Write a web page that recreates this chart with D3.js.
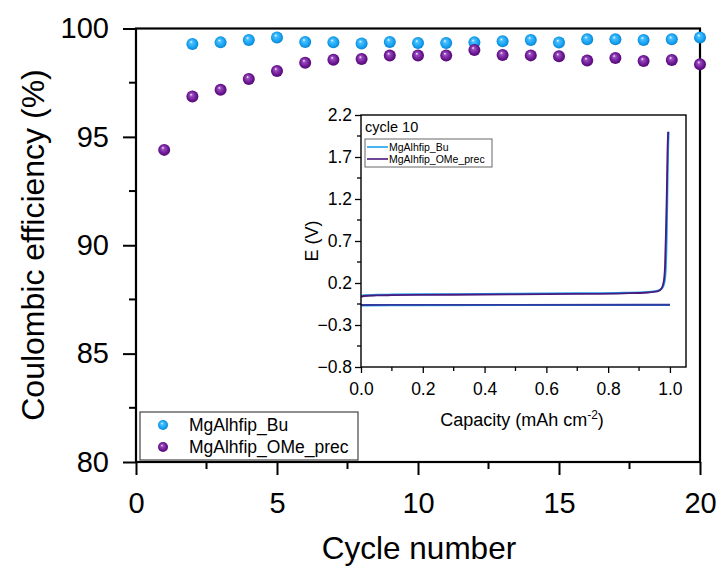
<!DOCTYPE html>
<html>
<head>
<meta charset="utf-8">
<script src="https://cdn.jsdelivr.net/npm/d3@7"></script>
<style>
  html, body { margin: 0; padding: 0; background: #fff; }
  svg { display: block; font-family: Arial, "Liberation Sans", sans-serif; }
</style>
</head>
<body>
<svg id="chart" width="723" height="567"></svg>
<script>
// Coulombic efficiency per cycle
const cycles = [1, 2, 3, 4, 5, 6, 7, 8, 9, 10, 11, 12, 13, 14, 15, 16, 17, 18, 19, 20];
const ceBu = [null, 99.29, 99.36, 99.47, 99.59, 99.38, 99.36, 99.31, 99.38, 99.33,
              99.33, 99.36, 99.41, 99.47, 99.35, 99.50, 99.50, 99.47, 99.50, 99.59];
const ceOMe = [94.40, 96.86, 97.17, 97.67, 98.04, 98.42, 98.56, 98.59, 98.75, 98.75,
               98.75, 99.01, 98.78, 98.76, 98.72, 98.52, 98.64, 98.50, 98.55, 98.35];
const seriesNames = ["MgAlhfip_Bu", "MgAlhfip_OMe_prec"];
const mainXTicks = [0, 5, 10, 15, 20];
const mainYTicks = [80, 85, 90, 95, 100];

// Cycle 10 voltage profiles (capacity in mAh cm-2, E in V)
const buStripCap = [0, 0.01, 0.05, 0.1, 0.3, 0.5, 0.7, 0.85, 0.93, 0.96, 0.975, 0.983, 0.987, 0.99, 0.992, 0.994, 0.996];
const buStripE   = [0.045, 0.055, 0.06, 0.063, 0.068, 0.073, 0.078, 0.085, 0.095, 0.11, 0.14, 0.22, 0.4, 0.8, 1.3, 1.75, 2.0];
const buPlateCap = [0, 0.1, 0.5, 0.9, 1.0];
const buPlateE   = [-0.068, -0.066, -0.064, -0.062, -0.062];
const omeStripCap = [0, 0.01, 0.05, 0.1, 0.3, 0.5, 0.7, 0.85, 0.93, 0.96, 0.972, 0.98, 0.984, 0.987, 0.99, 0.992, 0.994];
const omeStripE   = [0.035, 0.045, 0.052, 0.055, 0.06, 0.065, 0.07, 0.077, 0.087, 0.1, 0.13, 0.22, 0.4, 0.8, 1.3, 1.75, 2.0];
const omePlateCap = [0, 0.1, 0.5, 0.9, 1.0];
const omePlateE   = [-0.062, -0.061, -0.06, -0.059, -0.059];
const insetXTicks = [0, 0.2, 0.4, 0.6, 0.8, 1.0];
const insetYTicks = [-0.8, -0.3, 0.2, 0.7, 1.2, 1.7, 2.2];

const svg = d3.select("#chart");
const defs = svg.append("defs");

// shaded sphere markers
function sphere(id, hi, mid, edge) {
  const g = defs.append("radialGradient").attr("id", id)
    .attr("cx", "50%").attr("cy", "50%").attr("r", "55%")
    .attr("fx", "38%").attr("fy", "32%");
  g.append("stop").attr("offset", "0%").attr("stop-color", "#ffffff");
  g.append("stop").attr("offset", "22%").attr("stop-color", hi);
  g.append("stop").attr("offset", "70%").attr("stop-color", mid);
  g.append("stop").attr("offset", "100%").attr("stop-color", edge);
}
sphere("ballBlue", "#4cc0ff", "#13a0ee", "#0a78c8");
sphere("ballPurple", "#9a4cc0", "#6a1590", "#4a0a68");

// ---------- main panel ----------
const x = d3.scaleLinear().domain([0, 20]).range([136, 700]);
const y = d3.scaleLinear().domain([80, 100]).range([462, 28.5]);

const main = svg.append("g");

const xAxis = main.append("g").attr("transform", `translate(0,${y(80)})`)
  .call(d3.axisBottom(x).tickValues(mainXTicks).tickSize(13).tickPadding(17).tickFormat(d3.format("d")));
const yAxis = main.append("g").attr("transform", `translate(${x(0)},0)`)
  .call(d3.axisLeft(y).tickValues(mainYTicks).tickSize(13).tickPadding(14).tickFormat(d3.format("d")));
[xAxis, yAxis].forEach(a => {
  a.select(".domain").remove();
  a.selectAll(".tick line").attr("stroke", "#000").attr("stroke-width", 2);
  a.selectAll(".tick text").attr("fill", "#000").style("font-size", "29px");
});
// minor ticks
main.append("g").selectAll("line").data([2.5, 7.5, 12.5, 17.5]).join("line")
  .attr("x1", d => x(d)).attr("x2", d => x(d))
  .attr("y1", y(80)).attr("y2", y(80) + 7)
  .attr("stroke", "#000").attr("stroke-width", 2);
main.append("g").selectAll("line").data([82.5, 87.5, 92.5, 97.5]).join("line")
  .attr("x1", x(0) - 7).attr("x2", x(0))
  .attr("y1", d => y(d)).attr("y2", d => y(d))
  .attr("stroke", "#000").attr("stroke-width", 2);

main.append("rect")
  .attr("x", x(0)).attr("y", y(100))
  .attr("width", x(20) - x(0)).attr("height", y(80) - y(100))
  .attr("fill", "none").attr("stroke", "#000").attr("stroke-width", 2.2);

main.append("text")
  .attr("transform", `translate(33,245) rotate(-90)`)
  .attr("text-anchor", "middle").attr("dominant-baseline", "central")
  .style("font-size", "32px").text("Coulombic efficiency (%)");
main.append("text")
  .attr("x", 419).attr("y", 559)
  .attr("text-anchor", "middle")
  .style("font-size", "31.5px").text("Cycle number");

// ---------- inset panel ----------
const ix = d3.scaleLinear().domain([0, 1.052]).range([361, 686]);
const iy = d3.scaleLinear().domain([-0.8, 2.2]).range([367, 115]);
const inset = svg.append("g");

inset.append("rect")
  .attr("x", ix(0)).attr("y", iy(2.2))
  .attr("width", ix(1.052) - ix(0)).attr("height", iy(-0.8) - iy(2.2))
  .attr("fill", "#fff");

const ixAxis = inset.append("g").attr("transform", `translate(0,${iy(-0.8)})`)
  .call(d3.axisBottom(ix).tickValues(insetXTicks).tickSize(6).tickPadding(10).tickFormat(d3.format(".1f")));
const iyAxis = inset.append("g").attr("transform", `translate(${ix(0)},0)`)
  .call(d3.axisLeft(iy).tickValues(insetYTicks).tickSize(6).tickPadding(3).tickFormat(d3.format(".1f")));
[ixAxis, iyAxis].forEach(a => {
  a.select(".domain").remove();
  a.selectAll(".tick line").attr("stroke", "#000").attr("stroke-width", 1.3);
  a.selectAll(".tick text").attr("fill", "#000").style("font-size", "17.5px");
});
inset.append("g").selectAll("line").data([0.1, 0.3, 0.5, 0.7, 0.9]).join("line")
  .attr("x1", d => ix(d)).attr("x2", d => ix(d))
  .attr("y1", iy(-0.8)).attr("y2", iy(-0.8) + 4)
  .attr("stroke", "#000").attr("stroke-width", 1.3);
inset.append("g").selectAll("line").data([-0.55, -0.05, 0.45, 0.95, 1.45, 1.95]).join("line")
  .attr("x1", ix(0) - 4).attr("x2", ix(0))
  .attr("y1", d => iy(d)).attr("y2", d => iy(d))
  .attr("stroke", "#000").attr("stroke-width", 1.3);

const clip = defs.append("clipPath").attr("id", "insetClip");
clip.append("rect").attr("x", ix(0)).attr("y", iy(2.2))
  .attr("width", ix(1.052) - ix(0)).attr("height", iy(-0.8) - iy(2.2));

const line = d3.line().curve(d3.curveMonotoneX);
function profile(caps, es, color) {
  inset.append("path")
    .attr("clip-path", "url(#insetClip)")
    .attr("d", line(caps.map((c, i) => [ix(c), iy(es[i])])))
    .attr("fill", "none").attr("stroke", color).attr("stroke-width", 1.8);
}
const blueLine = "#1aa0ee", purpleLine = "#4a1a7e";
profile(buStripCap, buStripE, blueLine);
profile(buPlateCap, buPlateE, blueLine);
profile(omeStripCap, omeStripE, purpleLine);
profile(omePlateCap, omePlateE, "#303a9e");

inset.append("rect")
  .attr("x", ix(0)).attr("y", iy(2.2))
  .attr("width", ix(1.052) - ix(0)).attr("height", iy(-0.8) - iy(2.2))
  .attr("fill", "none").attr("stroke", "#000").attr("stroke-width", 1.4);

inset.append("text").attr("x", ix(0) + 4).attr("y", iy(2.2) + 17)
  .style("font-size", "14.5px").text("cycle 10");

// inset legend
const il = inset.append("g").attr("transform", `translate(${ix(0) + 4},${iy(2.2) + 24})`);
il.append("rect").attr("width", 127).attr("height", 28)
  .attr("fill", "#fff").attr("stroke", "#666").attr("stroke-width", 1);
[blueLine, purpleLine].forEach((c, i) => {
  il.append("line").attr("x1", 2).attr("x2", 23)
    .attr("y1", 8 + i * 12).attr("y2", 8 + i * 12)
    .attr("stroke", c).attr("stroke-width", 1.6);
  il.append("text").attr("x", 24).attr("y", 8 + i * 12)
    .attr("dominant-baseline", "central")
    .style("font-size", "10.5px").text(seriesNames[i]);
});

inset.append("text")
  .attr("transform", `translate(312,${(iy(-0.8) + iy(2.2)) / 2}) rotate(-90)`)
  .attr("text-anchor", "middle").attr("dominant-baseline", "central")
  .style("font-size", "18px").text("E (V)");
const xl = inset.append("text")
  .attr("x", 522).attr("y", 426)
  .attr("text-anchor", "middle").style("font-size", "18px");
xl.append("tspan").text("Capacity (mAh cm");
xl.append("tspan").attr("dy", -7).style("font-size", "12px").text("-2");
xl.append("tspan").attr("dy", 7).text(")");

// ---------- data points ----------
const pts = svg.append("g");
const r = 6;
pts.selectAll("circle.bu").data(cycles.map((c, i) => [c, ceBu[i]]).filter(d => d[1] != null))
  .join("circle").attr("class", "bu")
  .attr("cx", d => x(d[0])).attr("cy", d => y(d[1])).attr("r", r)
  .attr("fill", "url(#ballBlue)");
pts.selectAll("circle.ome").data(cycles.map((c, i) => [c, ceOMe[i]]))
  .join("circle").attr("class", "ome")
  .attr("cx", d => x(d[0])).attr("cy", d => y(d[1])).attr("r", r)
  .attr("fill", "url(#ballPurple)");

// main legend
const lg = svg.append("g").attr("transform", "translate(140,412)");
lg.append("rect").attr("width", 218).attr("height", 48)
  .attr("fill", "#fff").attr("stroke", "#444").attr("stroke-width", 1.2);
["url(#ballBlue)", "url(#ballPurple)"].forEach((f, i) => {
  lg.append("circle").attr("cx", 23).attr("cy", 13 + i * 22).attr("r", 5).attr("fill", f);
  lg.append("text").attr("x", 49).attr("y", 13 + i * 22)
    .attr("dominant-baseline", "central")
    .style("font-size", "17.5px").text(seriesNames[i]);
});
</script>
</body>
</html>
